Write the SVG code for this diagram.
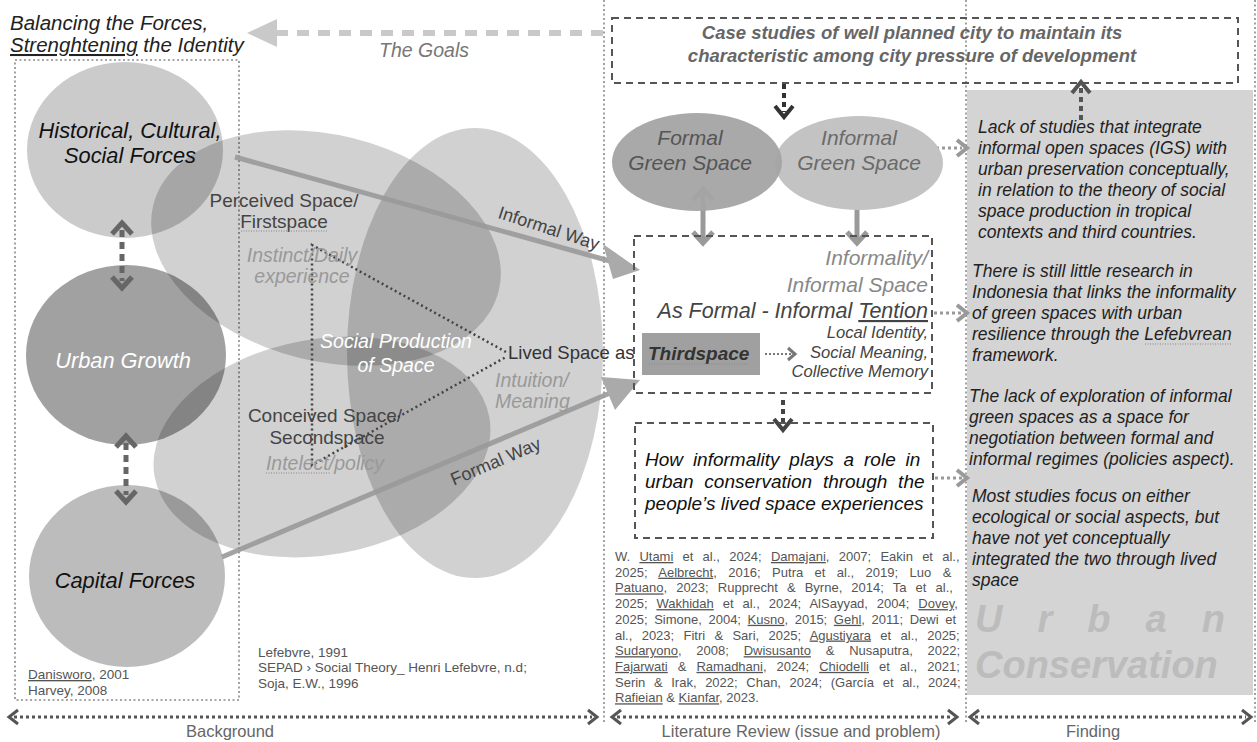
<svg xmlns="http://www.w3.org/2000/svg" width="1257" height="742" viewBox="0 0 1257 742">
<defs>
<style>
text{font-family:"Liberation Sans",Arial,Helvetica,sans-serif}
.i{font-style:italic}
.b{font-weight:bold}
.m{text-anchor:middle}
.e{text-anchor:end}
.sep{stroke:#8a8a8a;stroke-width:1.6;stroke-dasharray:2,2.5;fill:none}
.box{fill:none;stroke:#555;stroke-width:2;stroke-dasharray:7,5}
.ov{fill:#000;fill-opacity:0.18}
.tri{stroke:#444;stroke-width:2.5;stroke-dasharray:2,3;fill:none}
.way{stroke:#999;stroke-width:5;fill:none;opacity:0.9}
.u{text-decoration:underline}
.dl{stroke:#888;stroke-width:1.2;stroke-dasharray:1,1.5;fill:none}
.ref{font-size:13px;fill:#555}
.fd{font-size:17.5px;fill:#222;font-style:italic}
.sl{font-size:16.5px;fill:#666;text-anchor:middle}
</style>
</defs>
<rect x="0" y="0" width="1257" height="742" fill="#fff"/>

<g id="frames">
<line class="sep" x1="604" y1="0" x2="604" y2="722"/>
<line class="sep" x1="966" y1="0" x2="966" y2="722"/>
<line class="sep" x1="1255" y1="0" x2="1255" y2="722"/>
<rect class="sep" x="15" y="60" width="224" height="640"/>
<rect x="967" y="90" width="286" height="605" fill="#d4d4d4"/>
</g>

<g id="forces">
<ellipse id="historical" cx="125" cy="150" rx="98" ry="88" fill="#cbcbcb"/>
<ellipse id="urban-growth" cx="126" cy="355" rx="100" ry="90" fill="#a1a1a1"/>
<ellipse id="capital" cx="127" cy="576" rx="98" ry="91" fill="#bcbcbc"/>
</g>

<g id="social-production">
<ellipse id="perceived" class="ov" cx="326" cy="248" rx="178" ry="113" transform="rotate(14 326 248)"/>
<ellipse id="conceived" class="ov" cx="322" cy="447" rx="170" ry="108" transform="rotate(-10 322 447)"/>
<ellipse id="lived" class="ov" cx="475" cy="353" rx="128" ry="225"/>
</g>

<g id="connectors">
<line x1="603" y1="33" x2="275" y2="33" stroke="#c9c9c9" stroke-width="6" stroke-dasharray="12,9"/>
<polygon points="247,33 277,19 277,47" fill="#c9c9c9"/>
<line class="way" x1="235" y1="157" x2="610" y2="261"/>
<polygon points="640,270 603,244 613,279" fill="#aaa"/>
<line class="way" x1="222" y1="557" x2="610" y2="393"/>
<polygon points="640,380 601,377 615,410" fill="#aaa"/>
<polyline class="tri" points="506,352 312,245 312,465 506,357"/>
<g stroke="#666" stroke-width="5" fill="none">
<line x1="122" y1="230" x2="122" y2="281" stroke-dasharray="7,5"/>
<polyline points="112,234 122,223 132,234"/>
<polyline points="112,277 122,288 132,277"/>
<line x1="126" y1="443" x2="126" y2="495" stroke-dasharray="7,5"/>
<polyline points="116,447 126,436 136,447"/>
<polyline points="116,491 126,502 136,491"/>
</g>
<g stroke="#333" stroke-width="4" fill="none">
<line x1="784" y1="84" x2="784" y2="112" stroke-dasharray="5,4"/>
<polyline points="775,106 784,117 793,106"/>
<line x1="783" y1="400" x2="783" y2="425" stroke-dasharray="5,4" stroke="#444"/>
<polyline points="774,419 783,430 792,419" stroke="#444"/>
</g>
<g stroke="#555" stroke-width="4" fill="none">
<line x1="1081" y1="120" x2="1081" y2="88" stroke-dasharray="5,4"/>
<polyline points="1072,93 1081,82 1090,93"/>
</g>
<g stroke="#9a9a9a" stroke-width="5" fill="none">
<line x1="703" y1="192" x2="703" y2="240"/>
<polyline points="693,200 703,189 713,200"/>
<polyline points="693,232 703,243 713,232"/>
<line x1="857" y1="192" x2="857" y2="240"/>
<polyline points="847,200 857,189 867,200"/>
<polyline points="847,232 857,243 867,232"/>
</g>
<g stroke="#999" stroke-width="3" fill="none">
<line x1="930" y1="148" x2="962" y2="148" stroke-dasharray="3,3"/>
<polyline points="957,140 967,148 957,156" stroke-width="4"/>
<line x1="934" y1="313" x2="962" y2="313" stroke-dasharray="3,3"/>
<polyline points="957,305 967,313 957,321" stroke-width="4"/>
<line x1="935" y1="478" x2="962" y2="478" stroke-dasharray="3,3"/>
<polyline points="957,470 967,478 957,486" stroke-width="4"/>
</g>
<g stroke="#777" stroke-width="2" fill="none">
<line x1="765" y1="354" x2="792" y2="354" stroke-dasharray="2,2"/>
<polyline points="788,348 795,354 788,360" stroke-width="3"/>
</g>
<g stroke="#555" stroke-width="3" fill="none">
<line x1="14" y1="717" x2="592" y2="717" stroke-dasharray="3,3"/>
<polyline points="18,710 9,717 18,724"/>
<polyline points="588,710 597,717 588,724"/>
<line x1="617" y1="717" x2="952" y2="717" stroke-dasharray="3,3"/>
<polyline points="621,710 612,717 621,724"/>
<polyline points="948,710 957,717 948,724"/>
<line x1="975" y1="717" x2="1246" y2="717" stroke-dasharray="3,3"/>
<polyline points="979,710 970,717 979,724"/>
<polyline points="1242,710 1251,717 1242,724"/>
</g>
</g>

<g id="goal">
<text x="10" y="30" class="i" font-size="20.5" fill="#222">Balancing the Forces,</text>
<text x="10" y="52" class="i" font-size="20.5" fill="#222"><tspan class="u">Strenghtening</tspan> the Identity</text>
<text x="424" y="57" class="i m" font-size="19.5" fill="#777">The Goals</text>
</g>

<g id="force-labels">
<text x="130" y="138" class="i m" font-size="21.8" fill="#111">Historical, Cultural,</text>
<text x="130" y="163" class="i m" font-size="21.8" fill="#111">Social Forces</text>
<text x="123" y="368" class="i m" font-size="21.8" fill="#fff">Urban Growth</text>
<text x="125" y="588" class="i m" font-size="21.8" fill="#111">Capital Forces</text>
<text x="28" y="679" font-size="13.5" fill="#555"><tspan class="u">Danisworo</tspan>, 2001</text>
<text x="28" y="695" font-size="13.5" fill="#555">Harvey, 2008</text>
</g>

<g id="space-labels">
<text x="284" y="207" class="m" font-size="19" fill="#444">Perceived Space/</text>
<text x="284" y="228" class="m" font-size="19" fill="#444">Firstspace</text>
<line class="dl" x1="241" y1="231" x2="328" y2="231"/>
<text x="302" y="262" class="i m" font-size="19.5" fill="#999">Instinct/Daily</text>
<text x="302" y="283" class="i m" font-size="19.5" fill="#999">experience</text>
<text x="396" y="348" class="i m" font-size="19.5" fill="#fff">Social Production</text>
<text x="396" y="372" class="i m" font-size="19.5" fill="#fff">of Space</text>
<text x="508" y="359" font-size="18.5" fill="#333">Lived Space as</text>
<text x="495" y="387" class="i" font-size="19.5" fill="#999">Intuition/</text>
<text x="495" y="408" class="i" font-size="19.5" fill="#999">Meaning</text>
<text x="325" y="422" class="m" font-size="19" fill="#444">Conceived Space/</text>
<text x="327" y="444" class="m" font-size="19" fill="#444">Secondspace</text>
<text x="325" y="470" class="i m" font-size="19.5" fill="#999">Intelect/policy</text>
<line class="dl" x1="266" y1="473" x2="331" y2="473"/>
<text x="547" y="234" class="m" font-size="18" fill="#444" transform="rotate(18 547 234)">Informal Way</text>
<text x="498" y="467" class="m" font-size="18" fill="#444" transform="rotate(-23 498 467)">Formal Way</text>
<text x="258" y="657" font-size="13.5" fill="#555">Lefebvre, 1991</text>
<text x="258" y="672" font-size="13.5" fill="#555">SEPAD › Social Theory_ Henri Lefebvre, n.d;</text>
<text x="258" y="688" font-size="13.5" fill="#555">Soja, E.W., 1996</text>
</g>

<g id="case-studies">
<rect class="box" x="612" y="18" width="626" height="65"/>
<text x="912" y="39" class="i b m" font-size="18.5" fill="#666">Case studies of well planned city to maintain its</text>
<text x="912" y="62" class="i b m" font-size="18.5" fill="#666">characteristic among city pressure of development</text>
</g>

<g id="green-spaces">
<ellipse id="informal-gs" cx="859" cy="163" rx="84" ry="47" fill="#c3c3c3"/>
<ellipse id="formal-gs" cx="697" cy="162" rx="85" ry="49" fill="#a4a4a4" fill-opacity="0.95"/>
<text x="690" y="145" class="i m" font-size="21" fill="#555">Formal</text>
<text x="690" y="170" class="i m" font-size="21" fill="#555">Green Space</text>
<text x="859" y="145" class="i m" font-size="21" fill="#6a6a6a">Informal</text>
<text x="859" y="170" class="i m" font-size="21" fill="#6a6a6a">Green Space</text>
</g>

<g id="informality">
<rect class="box" x="634" y="236" width="298" height="157"/>
<text x="928" y="265" class="i e" font-size="21" fill="#888">Informality/</text>
<text x="928" y="292" class="i e" font-size="21" fill="#888">Informal Space</text>
<text x="928" y="318" class="i e" font-size="21.5" fill="#444">As Formal - Informal <tspan class="u">Tention</tspan></text>
<text x="928" y="338" class="i e" font-size="16.6" fill="#444">Local Identity,</text>
<text x="928" y="358" class="i e" font-size="16.6" fill="#444">Social Meaning,</text>
<text x="928" y="377" class="i e" font-size="16.6" fill="#444">Collective Memory</text>
<rect x="642" y="333" width="118" height="42" fill="#a0a0a0"/>
<text x="648" y="360" class="i b" font-size="19" fill="#333">Thirdspace</text>
<line class="dl" x1="649" y1="364" x2="748" y2="364" stroke="#555"/>
</g>

<g id="question">
<rect class="box" x="635" y="423" width="298" height="115"/>
<text x="645" y="466" class="i" font-size="19" fill="#111" word-spacing="4.6">How informality plays a role in</text>
<text x="645" y="488" class="i" font-size="19" fill="#111" word-spacing="5.5">urban conservation through the</text>
<text x="645" y="510" class="i" font-size="19" fill="#111">people’s lived space experiences</text>
</g>

<g id="references">
<text x="615" y="561" class="ref" word-spacing="5.6">W. <tspan class="u">Utami</tspan> et al., 2024; <tspan class="u">Damajani</tspan>, 2007; Eakin et al.,</text>
<text x="615" y="576.7" class="ref" word-spacing="7.8">2025; <tspan class="u">Aelbrecht</tspan>, 2016; Putra et al., 2019; Luo &amp;</text>
<text x="615" y="592.4" class="ref" word-spacing="5.5"><tspan class="u">Patuano</tspan>, 2023; Rupprecht &amp; Byrne, 2014; Ta et al.,</text>
<text x="615" y="608.1" class="ref" word-spacing="5.3">2025; <tspan class="u">Wakhidah</tspan> et al., 2024; AlSayyad, 2004; <tspan class="u">Dovey</tspan>,</text>
<text x="615" y="623.8" class="ref" word-spacing="3">2025; Simone, 2004; <tspan class="u">Kusno</tspan>, 2015; <tspan class="u">Gehl</tspan>, 2011; Dewi et</text>
<text x="615" y="639.5" class="ref" word-spacing="5.7">al., 2023; Fitri &amp; Sari, 2025; <tspan class="u">Agustiyara</tspan> et al., 2025;</text>
<text x="615" y="655.2" class="ref" word-spacing="11.2"><tspan class="u">Sudaryono</tspan>, 2008; <tspan class="u">Dwisusanto</tspan> &amp; Nusaputra, 2022;</text>
<text x="615" y="670.9" class="ref" word-spacing="6.4"><tspan class="u">Fajarwati</tspan> &amp; <tspan class="u">Ramadhani</tspan>, 2024; <tspan class="u">Chiodelli</tspan> et al., 2021;</text>
<text x="615" y="686.6" class="ref" word-spacing="5">Serin &amp; Irak, 2022; Chan, 2024; (García et al., 2024;</text>
<text x="615" y="702.3" class="ref"><tspan class="u">Rafieian</tspan> &amp; <tspan class="u">Kianfar</tspan>, 2023.</text>
</g>

<g id="findings">
<text x="978" y="133" class="fd">Lack of studies that integrate</text>
<text x="978" y="154" class="fd">informal open spaces (IGS) with</text>
<text x="978" y="175" class="fd">urban preservation conceptually,</text>
<text x="978" y="196" class="fd">in relation to the theory of social</text>
<text x="978" y="217" class="fd">space production in tropical</text>
<text x="978" y="238" class="fd">contexts and third countries.</text>
<text x="972" y="277" class="fd">There is still little research in</text>
<text x="972" y="298" class="fd">Indonesia that links the informality</text>
<text x="972" y="319" class="fd">of green spaces with urban</text>
<text x="972" y="340" class="fd">resilience through the Lefebvrean</text>
<line class="dl" x1="1145" y1="344" x2="1232" y2="344"/>
<text x="972" y="361" class="fd">framework.</text>
<text x="969" y="402" class="fd">The lack of exploration of informal</text>
<text x="969" y="423" class="fd">green spaces as a space for</text>
<text x="969" y="444" class="fd">negotiation between formal and</text>
<text x="969" y="465" class="fd">informal regimes (policies aspect).</text>
<text x="972" y="502" class="fd">Most studies focus on either</text>
<text x="972" y="523" class="fd">ecological or social aspects, but</text>
<text x="972" y="544" class="fd">have not yet conceptually</text>
<text x="972" y="565" class="fd">integrated the two through lived</text>
<text x="972" y="586" class="fd">space</text>
<text x="975" y="632" class="i b" font-size="38" fill="#bcbcbc" textLength="250" lengthAdjust="spacing">U r b a n</text>
<text x="975" y="678" class="i b" font-size="38" fill="#bcbcbc">Conservation</text>
</g>

<g id="section-labels">
<text x="230" y="737" class="sl">Background</text>
<text x="801" y="737" class="sl">Literature Review (issue and problem)</text>
<text x="1093" y="737" class="sl">Finding</text>
</g>
</svg>
